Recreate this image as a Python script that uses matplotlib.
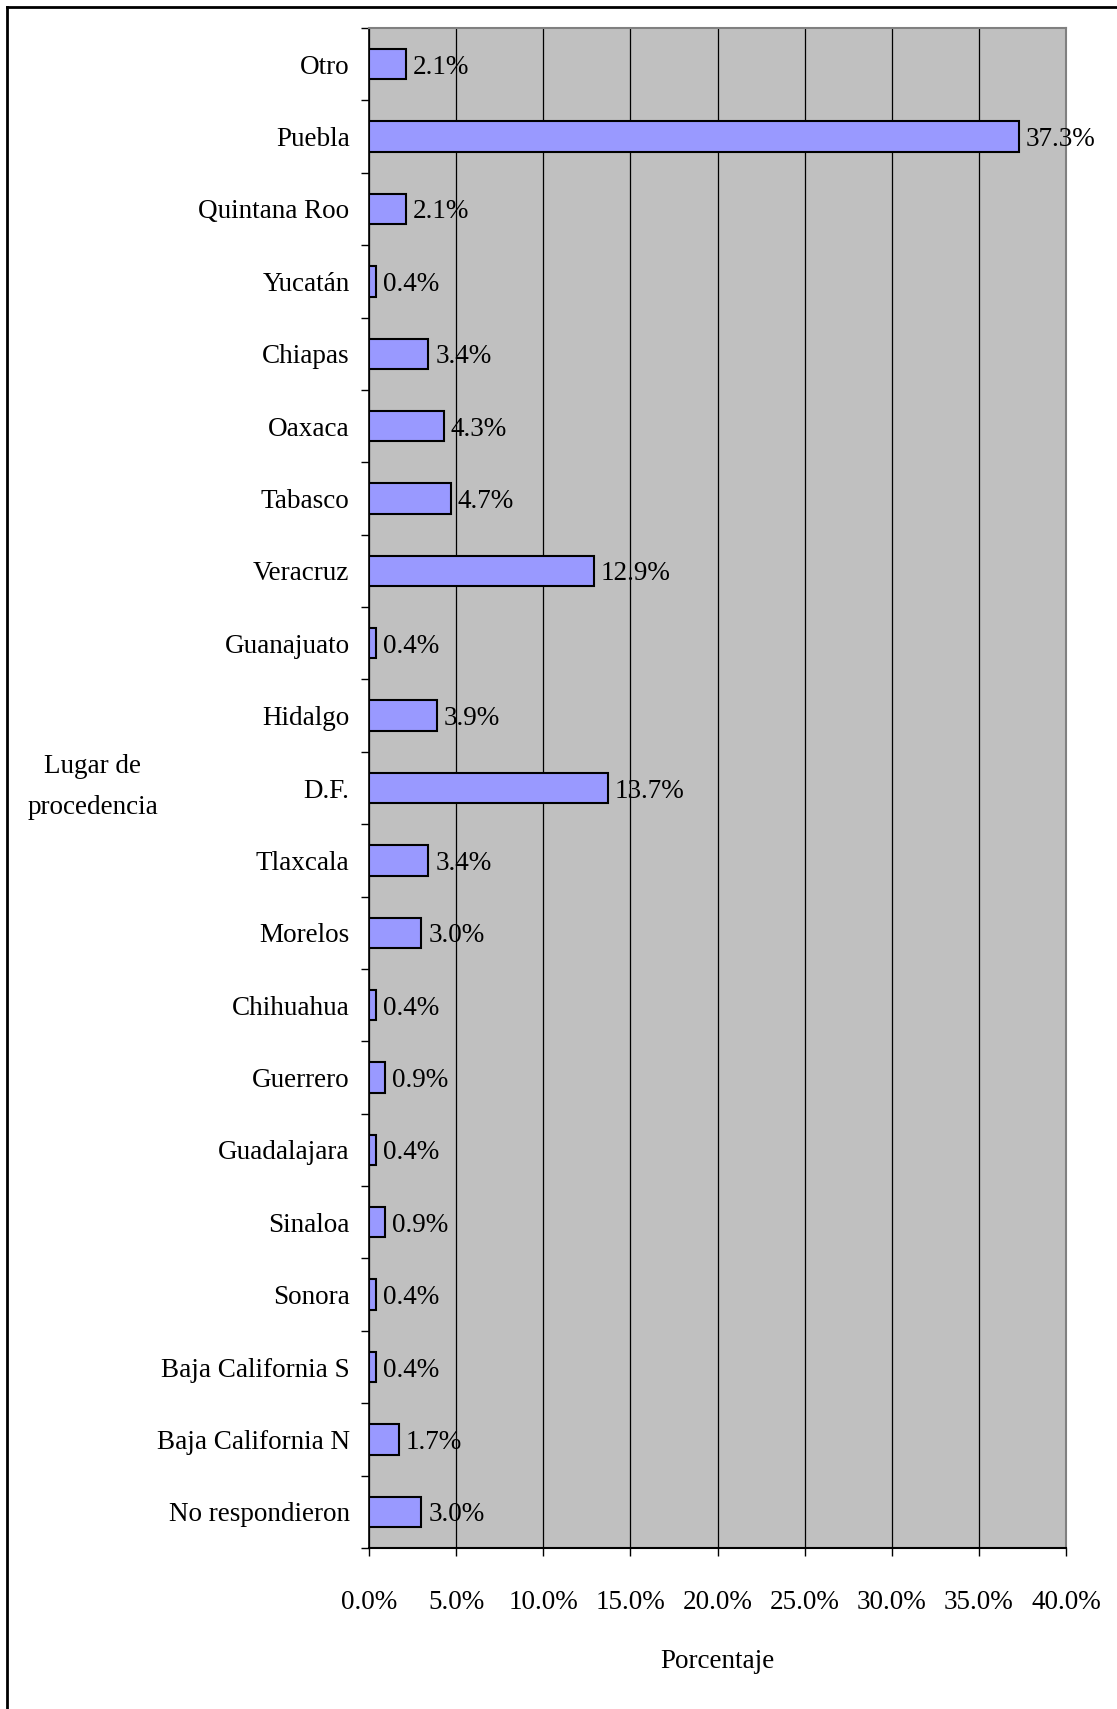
from matplotlib import pyplot as plt
from matplotlib.lines import Line2D
import matplotlib

matplotlib.rcParams['font.family'] = ['Liberation Serif', 'DejaVu Serif']

lugares = ["Otro", "Puebla", "Quintana Roo", "Yucatán", "Chiapas", "Oaxaca", "Tabasco",
           "Veracruz", "Guanajuato", "Hidalgo", "D.F.", "Tlaxcala", "Morelos", "Chihuahua",
           "Guerrero", "Guadalajara", "Sinaloa", "Sonora", "Baja California S",
           "Baja California N", "No respondieron"]
porcentajes = [2.1, 37.3, 2.1, 0.4, 3.4, 4.3, 4.7, 12.9, 0.4, 3.9, 13.7, 3.4, 3.0, 0.4,
               0.9, 0.4, 0.9, 0.4, 0.4, 1.7, 3.0]
x_ticks = [0, 5, 10, 15, 20, 25, 30, 35, 40]

W, H = 1117, 1709
fig = plt.figure(figsize=(W / 100, H / 100), dpi=100)
ax = fig.add_axes([369 / W, 1 - 1548 / H, (1066 - 369) / W, (1548 - 28) / H])
fs = 19.5

pos = list(range(len(lugares)))
ax.barh(pos, porcentajes, height=0.42, color='#9999FF', edgecolor='black', linewidth=1.5, zorder=3)
for p, v in zip(pos, porcentajes):
    ax.annotate("{:.1f}%".format(v), (v, p), xytext=(5, 0), textcoords='offset points',
                va='center_baseline', ha='left', fontsize=fs, zorder=4)

ax.set_facecolor('#C0C0C0')
ax.set_xlim(0, 40)
ax.set_ylim(len(lugares) - 0.5, -0.5)
ax.set_xticks(x_ticks)
ax.set_xticklabels(["{:.1f}%".format(t) for t in x_ticks], fontsize=fs)
ax.tick_params(axis='x', direction='out', length=6, width=1, pad=24)

ax.set_yticks([i - 0.5 for i in range(len(lugares) + 1)])
ax.set_yticklabels([])
ax.set_yticks(pos, minor=True)
ax.set_yticklabels(lugares, minor=True, fontsize=fs)
ax.tick_params(axis='y', which='major', direction='out', length=6, width=1)
ax.tick_params(axis='y', which='minor', length=0, pad=14)

ax.grid(axis='x', color='black', linewidth=0.9)
ax.set_axisbelow(True)
ax.spines['left'].set_color('black')
ax.spines['bottom'].set_color('black')
ax.spines['left'].set_linewidth(1.2)
ax.spines['bottom'].set_linewidth(1.5)
ax.spines['top'].set_color('#808080')
ax.spines['right'].set_color('#808080')
ax.spines['top'].set_linewidth(1.5)
ax.spines['right'].set_linewidth(1.5)

fig.text(717 / W, 1 - 1662 / H, "Porcentaje", ha='center', va='center', fontsize=fs)
fig.text(93 / W, 1 - 787 / H, "Lugar de\nprocedencia", ha='center', va='center',
         fontsize=fs, linespacing=1.85)

# marco exterior
fig.add_artist(Line2D([7 / W, 1], [1 - 7 / H, 1 - 7 / H], color='black', linewidth=2))
fig.add_artist(Line2D([7 / W, 7 / W], [0, 1 - 7 / H], color='black', linewidth=2))

plt.savefig("out.png", dpi=100)
